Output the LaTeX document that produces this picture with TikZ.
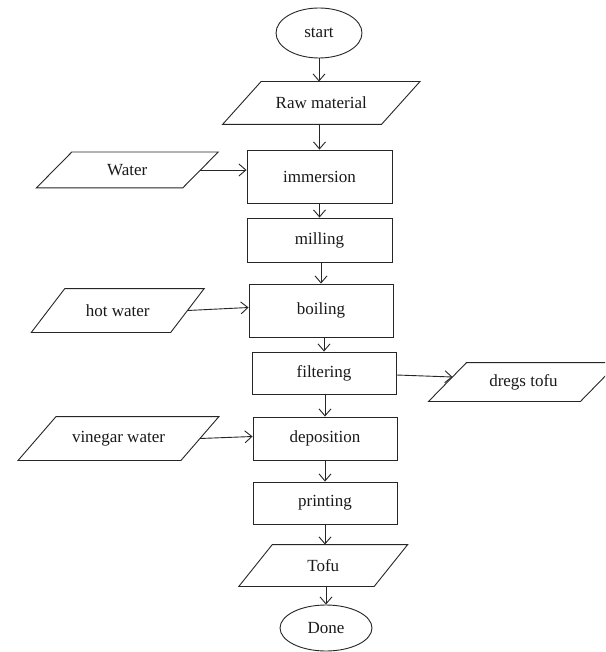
\documentclass[tikz,border=0pt]{standalone}
\usepackage{fontspec}
\setmainfont{Liberation Serif}
\usetikzlibrary{arrows.meta,shapes.geometric}
\begin{document}
\begin{tikzpicture}[x=1pt,y=-1pt,
  line width=0.9pt, draw=black!85,
  every node/.style={font=\fontsize{17}{20}\selectfont, text=black!90},
  procbox/.style={draw, rectangle, inner sep=0pt},
  iobox/.style={rectangle, inner sep=0pt},
  termbox/.style={draw, ellipse, inner sep=0pt},
  flow/.style={-{Straight Barb[length=7pt,width=12pt,line width=0.9pt]}}
]
\useasboundingbox (0,0) rectangle (605,652);
\fill[white] (0,0) rectangle (605,652);
\clip (0,0) rectangle (605,652);

% terminals
\node[termbox, minimum width=86pt, minimum height=50pt] (start) at (319,33) {start};
\node[termbox, minimum width=92pt, minimum height=46pt] (done) at (326,628) {Done};

% process boxes
\node[procbox, minimum width=145pt, minimum height=53pt] (imm) at (319.5,176.5) {immersion};
\node[procbox, minimum width=145pt, minimum height=44pt] (mill) at (319.5,240) {milling};
\node[procbox, minimum width=144pt, minimum height=53pt] (boil) at (321,310.5) {boiling};
\node[procbox, minimum width=144pt, minimum height=42pt] (filt) at (324,373) {filtering};
\node[procbox, minimum width=144pt, minimum height=43pt] (depo) at (325,438.5) {deposition};
\node[procbox, minimum width=144pt, minimum height=42pt] (print) at (325,503) {printing};

% input/output boxes (outlines drawn below)
\node[iobox, minimum width=158pt, minimum height=42pt] (raw) at (321.25,103) {Raw material};
\node[iobox, minimum width=145.5pt, minimum height=35pt] (water) at (127.25,170) {Water};
\node[iobox, minimum width=138.5pt, minimum height=43pt] (hot) at (117.75,310.5) {hot water};
\node[iobox, minimum width=151pt, minimum height=38pt] (dregs) at (523.5,382) {dregs tofu};
\node[iobox, minimum width=162pt, minimum height=43pt] (vine) at (118.5,438.5) {vinegar water};
\node[iobox, minimum width=134.5pt, minimum height=41pt] (tofu) at (323.25,565.5) {Tofu};

\foreach \n/\s in {raw/19.25, water/17.75, hot/16.75, dregs/19, vine/19, tofu/16.75}
  \draw ([xshift=\s pt]\n.north west) -- ([xshift=\s pt]\n.north east)
     -- ([xshift=-\s pt]\n.south east) -- ([xshift=-\s pt]\n.south west) -- cycle;

% main flow
\draw[flow] (start.south) -- (start.south |- raw.north);
\draw[flow] (raw.south -| imm.north) -- (imm.north);
\draw[flow] (imm.south) -- (mill.north);
\draw[flow] (mill.south -| boil.north) -- (boil.north);
\draw[flow] (boil.south -| filt.north) -- (filt.north);
\draw[flow] (filt.south -| depo.north) -- (depo.north);
\draw[flow] (depo.south) -- (print.north);
\draw[flow] (print.south) -- (print.south |- tofu.north);
\draw[flow] (tofu.south -| done.north) -- (done.north);

% side flows
\draw[flow] (water.east) -- (water.east -| imm.west);
\draw[flow] (hot.east) -- ([yshift=3pt]boil.west);
\draw[flow] ([yshift=-2pt]filt.east) -- ([xshift=5pt,yshift=5pt]dregs.west);
\draw[flow] (vine.east) -- ([yshift=2pt]depo.west);
\end{tikzpicture}
\end{document}
